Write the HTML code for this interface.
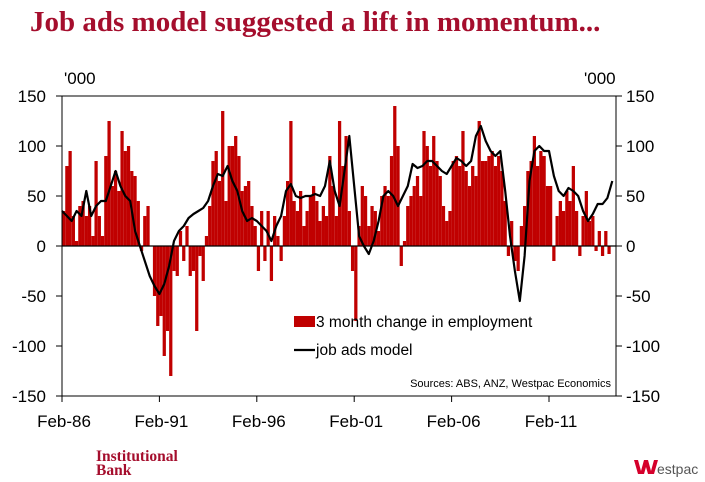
<!DOCTYPE html>
<html><head><meta charset="utf-8">
<style>
body{margin:0;background:#fff;width:705px;height:482px;overflow:hidden;font-family:"Liberation Sans",sans-serif;}
#title{position:absolute;left:30px;top:6px;font-family:"Liberation Serif",serif;font-weight:bold;font-size:29px;color:#a50e2d;white-space:nowrap;}
svg{position:absolute;left:0;top:0;}
</style></head><body>
<div id="title">Job ads model suggested a lift in momentum...</div>
<svg id="chart" width="705" height="482"></svg>
<script>
// bimonthly 3-month change in employment ('000), from Feb-86
const barValues=[35,80,95,30,5,40,45,30,40,10,85,30,10,90,125,60,75,55,115,95,100,75,70,45,-5,30,40,0,-50,-80,-70,-110,-85,-130,-25,-30,15,-15,20,-30,-25,-85,-10,-35,10,40,85,95,65,135,45,100,100,110,90,55,60,65,40,20,-25,35,-15,35,-35,30,10,-15,30,65,125,45,35,55,20,35,50,60,45,25,40,30,90,60,30,125,80,110,35,-25,-75,20,60,50,20,40,35,15,50,60,50,90,140,100,-20,5,40,50,60,70,50,115,100,80,110,85,70,40,25,35,85,90,80,115,75,60,80,70,125,85,85,90,95,80,90,75,45,-10,25,-15,-25,20,40,75,85,110,80,95,90,60,60,-15,30,45,35,55,45,80,35,-10,30,55,25,30,-5,15,-10,15,-8];
// quarterly job ads model ('000), from Feb-86
const lineValues=[35,30,25,35,30,55,30,40,45,45,60,75,60,50,45,15,0,-15,-30,-40,-48,-38,-20,5,15,20,28,32,35,38,45,60,72,70,80,65,55,35,25,28,25,20,15,5,20,30,55,62,50,48,50,50,52,50,60,85,55,40,75,110,60,10,0,-8,5,25,50,55,50,40,50,60,82,78,80,85,85,80,75,72,80,88,85,80,85,110,120,105,95,90,95,55,10,-25,-55,-10,65,95,100,95,95,70,55,50,58,55,50,35,25,32,42,42,48,65];
const yTicks=[150,100,50,0,-50,-100,-150];
const xTickLabels=["Feb-86","Feb-91","Feb-96","Feb-01","Feb-06","Feb-11"];

const svg=document.getElementById('chart');
const NS='http://www.w3.org/2000/svg';
const L=62,R=616,T=96,B=396;
const pxPerMonth=(549-62)/300;
const x=m=>L+m*pxPerMonth;
const y=v=>246-v*(B-T)/300;
function mk(tag,attrs){const e=document.createElementNS(NS,tag);for(const k in attrs)e.setAttribute(k,attrs[k]);svg.appendChild(e);return e;}

// bars
barValues.forEach((v,i)=>{
  const r=mk('rect',{x:x(i*2),y:Math.min(y(v),y(0)),width:2*pxPerMonth,height:Math.abs(y(v)-y(0)),fill:'#c00000'});
  
  
});
// zero line
const z=mk('line',{x1:L,x2:R,y1:y(0),y2:y(0),stroke:'#000','stroke-width':1.2});


// job ads line
const pts=lineValues.map((v,i)=>x(i*3).toFixed(1)+','+y(v).toFixed(1)).join(' ');
const pl=mk('polyline',{points:pts,fill:'none',stroke:'#000','stroke-width':2.2,'stroke-linejoin':'round'});


// frame
const fr=mk('rect',{x:L,y:T,width:R-L,height:B-T,fill:'none',stroke:'#000','stroke-width':1});


// y ticks & labels
yTicks.forEach(t=>{
  const yy=y(t);
  const a=mk('line',{x1:L-6,x2:L,y1:yy,y2:yy,stroke:'#000'});
  
  
  const b=mk('line',{x1:R,x2:R+6,y1:yy,y2:yy,stroke:'#000'});
  
  
  const tl=mk('text',{x:46,y:yy+6,'text-anchor':'end','font-size':17,fill:'#000'});
  tl.textContent=t;
  
  
  const tr=mk('text',{x:626,y:yy+6,'font-size':17,fill:'#000'});
  tr.textContent=t;
  
  
});
// x ticks
xTickLabels.forEach((s,i)=>{
  const xx=x(i*60);
  const tk=mk('line',{x1:xx,x2:xx,y1:B,y2:B+6,stroke:'#000'});
  
  
  const tx=mk('text',{x:xx+2,y:427,'text-anchor':'middle','font-size':17,fill:'#000'});
  tx.textContent=s;
  
  
});
// units
const u1=mk('text',{x:64,y:84,'font-size':17,fill:'#000'});u1.textContent="'000";


const u2=mk('text',{x:584,y:84,'font-size':17,fill:'#000'});u2.textContent="'000";


// legend
const lr=mk('rect',{x:294,y:316,width:21,height:11,fill:'#c00000'});


const lt=mk('text',{x:316,y:327,'font-size':15.5,fill:'#000'});lt.textContent='3 month change in employment';


const ll=mk('line',{x1:294,x2:315,y1:350,y2:350,stroke:'#000','stroke-width':2.2});


const lt2=mk('text',{x:316,y:355,'font-size':15.5,fill:'#000'});lt2.textContent='job ads model';


const src=mk('text',{x:611,y:387,'text-anchor':'end','font-size':11,fill:'#000'});src.textContent='Sources: ABS, ANZ, Westpac Economics';


// footer
const ib1=mk('text',{x:96,y:461,'font-size':15.5,'font-weight':'bold','font-family':'Liberation Serif, serif',fill:'#a50e2d'});ib1.textContent='Institutional';


const ib2=mk('text',{x:96,y:475,'font-size':15.5,'font-weight':'bold','font-family':'Liberation Serif, serif',fill:'#a50e2d'});ib2.textContent='Bank';


const wl=mk('path',{d:'M634 460 L638 460 L641 471 L644 460 L648 460 L651 471 L654 460 L658 460 L654 474 L648 474 L646 467 L644 474 L638 474 Z',fill:'#d5002b'});


const wt=mk('text',{x:657,y:474,'font-size':14,fill:'#555'});wt.textContent='estpac';


</script>
</body></html>
